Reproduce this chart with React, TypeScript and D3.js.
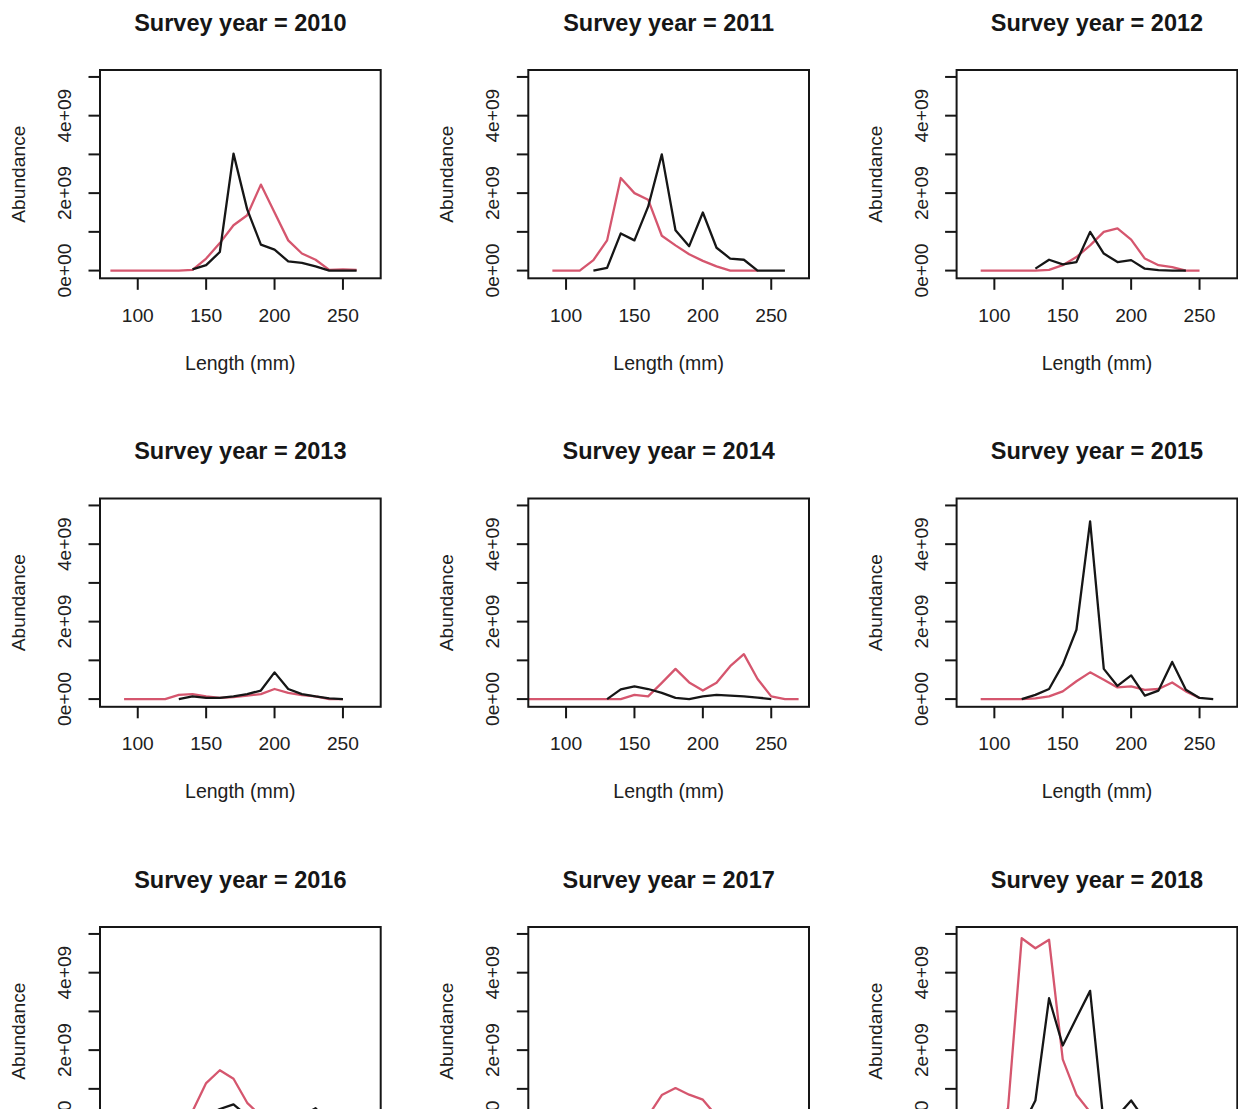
import React from "react";
import * as d3 from "d3";

// ---- data (abundance in units of 1e9, lengths in mm) ----
const years = [2010, 2011, 2012, 2013, 2014, 2015, 2016, 2017, 2018];

const blackLen2010 = [140, 150, 160, 170, 180, 190, 200, 210, 220, 230, 240, 250, 260];
const blackVal2010 = [0.03, 0.14, 0.48, 3.02, 1.58, 0.67, 0.54, 0.24, 0.2, 0.11, 0, 0, 0];
const redLen2010 = [80, 90, 100, 110, 120, 130, 140, 150, 160, 170, 180, 190, 200, 210, 220, 230, 240, 250, 260];
const redVal2010 = [0, 0, 0, 0, 0, 0, 0.02, 0.31, 0.71, 1.17, 1.43, 2.22, 1.5, 0.78, 0.44, 0.28, 0.02, 0.03, 0.02];

const blackLen2011 = [120, 130, 140, 150, 160, 170, 180, 190, 200, 210, 220, 230, 240, 250, 260];
const blackVal2011 = [0, 0.07, 0.96, 0.78, 1.65, 3.0, 1.04, 0.63, 1.5, 0.59, 0.31, 0.28, 0, 0, 0];
const redLen2011 = [90, 100, 110, 120, 130, 140, 150, 160, 170, 180, 190, 200, 210, 220, 230, 240];
const redVal2011 = [0, 0, 0, 0.27, 0.78, 2.39, 2.0, 1.83, 0.9, 0.65, 0.42, 0.25, 0.11, 0, 0, 0];

const blackLen2012 = [130, 140, 150, 160, 170, 180, 190, 200, 210, 220, 230, 240];
const blackVal2012 = [0.05, 0.28, 0.16, 0.22, 1.0, 0.44, 0.22, 0.27, 0.05, 0.01, 0, 0];
const redLen2012 = [90, 100, 110, 120, 130, 140, 150, 160, 170, 180, 190, 200, 210, 220, 230, 240, 250];
const redVal2012 = [0, 0, 0, 0, 0, 0.02, 0.14, 0.35, 0.65, 1.0, 1.09, 0.8, 0.31, 0.14, 0.09, 0, 0];

const blackLen2013 = [130, 140, 150, 160, 170, 180, 190, 200, 210, 220, 230, 240, 250];
const blackVal2013 = [0, 0.07, 0.03, 0.03, 0.07, 0.13, 0.22, 0.69, 0.26, 0.13, 0.07, 0.02, 0];
const redLen2013 = [90, 100, 110, 120, 130, 140, 150, 160, 170, 180, 190, 200, 210, 220, 230, 240, 250];
const redVal2013 = [0, 0, 0, 0, 0.11, 0.13, 0.07, 0.03, 0.05, 0.09, 0.13, 0.26, 0.16, 0.1, 0.07, 0, 0];

const blackLen2014 = [130, 140, 150, 160, 170, 180, 190, 200, 210, 220, 230, 240, 250];
const blackVal2014 = [0, 0.25, 0.33, 0.26, 0.16, 0.03, 0, 0.07, 0.11, 0.09, 0.07, 0.04, 0];
const redLen2014 = [70, 80, 90, 100, 110, 120, 130, 140, 150, 160, 170, 180, 190, 200, 210, 220, 230, 240, 250, 260, 270];
const redVal2014 = [0, 0, 0, 0, 0, 0, 0, 0, 0.11, 0.07, 0.42, 0.78, 0.43, 0.22, 0.42, 0.85, 1.16, 0.52, 0.07, 0, 0];

const blackLen2015 = [120, 130, 140, 150, 160, 170, 180, 190, 200, 210, 220, 230, 240, 250, 260];
const blackVal2015 = [0, 0.11, 0.26, 0.89, 1.79, 4.59, 0.78, 0.34, 0.61, 0.09, 0.22, 0.96, 0.24, 0.03, 0];
const redLen2015 = [90, 100, 110, 120, 130, 140, 150, 160, 170, 180, 190, 200, 210, 220, 230, 240, 250];
const redVal2015 = [0, 0, 0, 0, 0.02, 0.07, 0.2, 0.46, 0.69, 0.5, 0.3, 0.33, 0.24, 0.26, 0.43, 0.2, 0.03];

const blackLen2016 = [120, 130, 140, 150, 160, 170, 180, 190, 200, 210, 220, 230, 240, 250, 260];
const blackVal2016 = [0, 0.05, 0.15, 0.3, 0.48, 0.6, 0.3, 0.15, 0.2, 0.1, 0.3, 0.5, 0.1, 0, 0];
const redLen2016 = [90, 100, 110, 120, 130, 140, 150, 160, 170, 180, 190, 200, 210, 220, 230, 240, 250];
const redVal2016 = [0, 0, 0, 0, 0.1, 0.42, 1.15, 1.48, 1.26, 0.64, 0.3, 0.2, 0.12, 0.08, 0.05, 0, 0];

const blackLen2017 = [120, 130, 140, 150, 160, 170, 180, 190, 200, 210, 220, 230, 240, 250, 260];
const blackVal2017 = [0, 0.02, 0.05, 0.1, 0.15, 0.2, 0.25, 0.2, 0.15, 0.1, 0.1, 0.05, 0.02, 0, 0];
const redLen2017 = [90, 100, 110, 120, 130, 140, 150, 160, 170, 180, 190, 200, 210, 220, 230, 240, 250];
const redVal2017 = [0, 0, 0, 0, 0.02, 0.05, 0.15, 0.3, 0.84, 1.02, 0.85, 0.72, 0.3, 0.15, 0.08, 0.02, 0];

const blackLen2018 = [120, 130, 140, 150, 160, 170, 180, 190, 200, 210, 220, 230, 240, 250, 260];
const blackVal2018 = [0, 0.7, 3.34, 2.12, 2.83, 3.53, 0.08, 0.3, 0.7, 0.2, 0.1, 0.05, 0, 0, 0];
const redLen2018 = [90, 100, 110, 120, 130, 140, 150, 160, 170, 180, 190, 200, 210, 220, 230, 240, 250];
const redVal2018 = [0, 0, 0.5, 4.89, 4.63, 4.85, 1.76, 0.85, 0.4, 0.2, 0.1, 0.08, 0.05, 0.03, 0.02, 0, 0];

const blackLens = [blackLen2010, blackLen2011, blackLen2012, blackLen2013, blackLen2014, blackLen2015, blackLen2016, blackLen2017, blackLen2018];
const blackVals = [blackVal2010, blackVal2011, blackVal2012, blackVal2013, blackVal2014, blackVal2015, blackVal2016, blackVal2017, blackVal2018];
const redLens = [redLen2010, redLen2011, redLen2012, redLen2013, redLen2014, redLen2015, redLen2016, redLen2017, redLen2018];
const redVals = [redVal2010, redVal2011, redVal2012, redVal2013, redVal2014, redVal2015, redVal2016, redVal2017, redVal2018];

const xTicks = [100, 150, 200, 250];
const yTicks = [0, 1e9, 2e9, 3e9, 4e9, 5e9];
const yLabelTicks = [0, 2e9, 4e9];
const yLabelText = ["0e+00", "2e+09", "4e+09"];

const UNIT = 1e9;
const XLIM = [80, 270];
const YMAX = 4.98e9;

// ---- layout ----
const W = 1238;
const H = 1109;
const BOX_W = 280.7;
const BOX_H = 208.3;
const COL_X0 = 100;
const COL_STEP = 428.3;
const ROW_Y0 = 70;
const ROW_STEP = 428.5;
const FONT = "'Liberation Sans', Arial, Helvetica, sans-serif";
const RED = "#D5566E";
const INK = "#161616";
const TXT = "#202020";

const xPad = (XLIM[1] - XLIM[0]) * 0.04;
const xScale = d3.scaleLinear().domain([XLIM[0] - xPad, XLIM[1] + xPad]).range([0, BOX_W]);
const yScale = d3.scaleLinear().domain([-0.04 * YMAX, 1.04 * YMAX]).range([BOX_H, 0]);

const lineGen = d3
  .line<[number, number]>()
  .x((d) => xScale(d[0]))
  .y((d) => yScale(d[1] * UNIT));

function Panel({ idx }: { idx: number }) {
  const col = idx % 3;
  const row = Math.floor(idx / 3);
  const tx = COL_X0 + col * COL_STEP;
  const ty = ROW_Y0 + row * ROW_STEP;
  const black = blackLens[idx].map((l, i) => [l, blackVals[idx][i]] as [number, number]);
  const red = redLens[idx].map((l, i) => [l, redVals[idx][i]] as [number, number]);
  const clipId = `clip-${idx}`;
  return (
    <g transform={`translate(${tx},${ty})`}>
      <defs>
        <clipPath id={clipId}>
          <rect x={0} y={0} width={BOX_W} height={BOX_H} />
        </clipPath>
      </defs>
      <text
        x={BOX_W / 2}
        y={-39.5}
        textAnchor="middle"
        fontFamily={FONT}
        fontWeight="bold"
        fontSize={23.5}
        fill={INK}
      >
        {`Survey year = ${years[idx]}`}
      </text>
      <g clipPath={`url(#${clipId})`}>
        <path d={lineGen(red) || ""} fill="none" stroke={RED} strokeWidth={2.3} strokeLinejoin="round" />
        <path d={lineGen(black) || ""} fill="none" stroke={INK} strokeWidth={2.3} strokeLinejoin="round" />
      </g>
      <rect x={0} y={0} width={BOX_W} height={BOX_H} fill="none" stroke={INK} strokeWidth={2} />
      {/* x axis */}
      {xTicks.map((t) => (
        <g key={`xt${t}`}>
          <line x1={xScale(t)} x2={xScale(t)} y1={BOX_H} y2={BOX_H + 11.5} stroke={INK} strokeWidth={2} />
          <text x={xScale(t)} y={BOX_H + 43.5} textAnchor="middle" fontFamily={FONT} fontSize={19.2} fill={TXT}>
            {t}
          </text>
        </g>
      ))}
      <text x={BOX_W / 2} y={BOX_H + 91.3} textAnchor="middle" fontFamily={FONT} fontSize={19.5} fill={TXT}>
        Length (mm)
      </text>
      {/* y axis */}
      {yTicks.map((t) => (
        <line key={`yt${t}`} x1={-11.5} x2={0} y1={yScale(t)} y2={yScale(t)} stroke={INK} strokeWidth={2} />
      ))}
      {yLabelTicks.map((t, i) => (
        <text
          key={`yl${t}`}
          transform={`translate(-29,${yScale(t)}) rotate(-90)`}
          textAnchor="middle"
          fontFamily={FONT}
          fontSize={19.2}
          fill={TXT}
        >
          {yLabelText[i]}
        </text>
      ))}
      <text
        transform={`translate(-75,${BOX_H / 2}) rotate(-90)`}
        textAnchor="middle"
        fontFamily={FONT}
        fontSize={19.2}
        fill={TXT}
      >
        Abundance
      </text>
    </g>
  );
}

export default function App() {
  return (
    <svg
      width={W}
      height={H}
      viewBox={`0 0 ${W} ${H}`}
      style={{ position: "absolute", left: 0, top: 0, background: "#fff" }}
    >
      <rect x={0} y={0} width={W} height={H} fill="#fff" />
      {years.map((y, i) => (
        <Panel key={y} idx={i} />
      ))}
    </svg>
  );
}
